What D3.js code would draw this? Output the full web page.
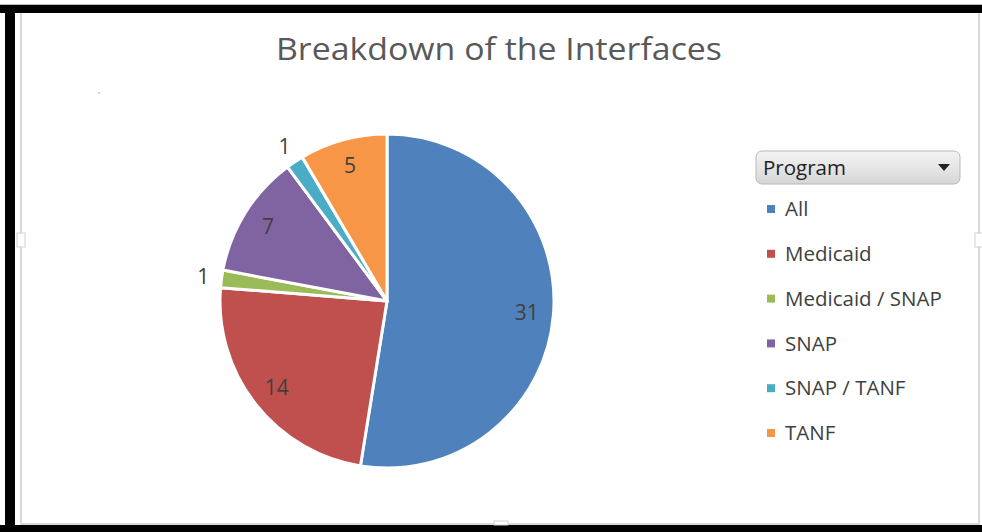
<!DOCTYPE html>
<meta charset="utf-8">
<style>
body { margin: 0; background: #fff; }
text { font-family: "Open Sans", sans-serif; }
</style>
<div id="chart"></div>
<script src="https://d3js.org/d3.v7.min.js"></script>
<script>

// data
var programs = ["All", "Medicaid", "Medicaid / SNAP", "SNAP", "SNAP / TANF", "TANF"];
var counts = [31, 14, 1, 7, 1, 5];
var colors = ["#4F81BD", "#C0504D", "#9BBB59", "#8064A2", "#4BACC6", "#F79646"];
var title = "Breakdown of the Interfaces";
var legendTitle = "Program";

var width = 982, height = 532;

var svg = d3.select("#chart")
  .append("svg")
    .attr("width", width)
    .attr("height", height);

// frame: thick black border top/left/bottom, thin gray chart-area outline
svg.append("rect").attr("x", 0).attr("y", 0).attr("width", width).attr("height", height).attr("fill", "#fff");
svg.append("rect").attr("x", 21).attr("y", 12).attr("width", 958).attr("height", 512)
  .attr("fill", "none").attr("stroke", "#d9d9d9").attr("stroke-width", 2);
svg.append("rect").attr("x", 0).attr("y", 5).attr("width", width).attr("height", 8).attr("fill", "#000");
svg.append("rect").attr("x", 5).attr("y", 5).attr("width", 10).attr("height", height - 5).attr("fill", "#000");
svg.append("rect").attr("x", 0).attr("y", 525).attr("width", width).attr("height", 7).attr("fill", "#000");
svg.append("line").attr("x1", 0).attr("x2", width).attr("y1", 4.5).attr("y2", 4.5).attr("stroke", "#bbb");

// resize handles on the chart area
[[21, 240], [979, 240]].forEach(function(p) {
  svg.append("rect").attr("x", p[0] - 4).attr("y", p[1] - 7).attr("width", 8).attr("height", 14)
    .attr("fill", "#fff").attr("stroke", "#d0d0d0");
});
svg.append("rect").attr("x", 494).attr("y", 521).attr("width", 14).attr("height", 4)
  .attr("fill", "#fff").attr("stroke", "#d0d0d0");
svg.append("circle").attr("cx", 99).attr("cy", 93).attr("r", 0.8).attr("fill", "#999");

// title
svg.append("text")
  .attr("x", 499)
  .attr("y", 60)
  .attr("text-anchor", "middle")
  .attr("textLength", 446)
  .attr("lengthAdjust", "spacingAndGlyphs")
  .style("font-size", "31px")
  .style("fill", "#595959")
  .text(title);

// pie
var cx = 387, cy = 301, r = 167;
var total = d3.sum(counts);
var data = programs.map(function(p, i) { return {name: p, value: counts[i], color: colors[i]}; });

var pie = d3.pie().value(function(d) { return d.value; }).sort(null);
var arc = d3.arc().innerRadius(0).outerRadius(r);
var inLabel = d3.arc().innerRadius(r * 0.84).outerRadius(r * 0.84);
var outLabel = d3.arc().innerRadius(r * 1.11).outerRadius(r * 1.11);

var g = svg.append("g").attr("transform", "translate(" + cx + "," + cy + ")");

g.selectAll("path")
  .data(pie(data))
  .enter()
  .append("path")
    .attr("d", arc)
    .attr("fill", function(d) { return d.data.color; })
    .attr("stroke", "#fff")
    .attr("stroke-width", 3)
    .attr("stroke-linejoin", "round");

g.selectAll(".lbl")
  .data(pie(data))
  .enter()
  .append("text")
    .attr("class", "lbl")
    .attr("transform", function(d) {
      var small = d.data.value / total < 0.03;
      return "translate(" + (small ? outLabel : inLabel).centroid(d) + ")";
    })
    .attr("text-anchor", "middle")
    .attr("dy", "0.36em")
    .style("font-size", "21px")
    .style("fill", "#404040")
    .text(function(d) { return d.data.value; });

// legend header (pivot field button)
var defs = svg.append("defs");
var grad = defs.append("linearGradient").attr("id", "btn").attr("x1", 0).attr("y1", 0).attr("x2", 0).attr("y2", 1);
grad.append("stop").attr("offset", "0%").attr("stop-color", "#f4f4f4");
grad.append("stop").attr("offset", "100%").attr("stop-color", "#d6d6d6");

svg.append("rect")
  .attr("x", 756).attr("y", 151).attr("width", 204).attr("height", 33)
  .attr("rx", 6)
  .attr("fill", "url(#btn)")
  .attr("stroke", "#b8b8b8");
svg.append("text")
  .attr("x", 763).attr("y", 175)
  .style("font-size", "20.5px")
  .style("fill", "#1f1f1f")
  .text(legendTitle);
svg.append("path")
  .attr("d", "M938,164 L950,164 L944,171 Z")
  .attr("fill", "#222");

// legend items
var ly = d3.scalePoint().domain(programs).range([209, 433]);

var items = svg.append("g").selectAll("g")
  .data(data)
  .enter()
  .append("g")
    .attr("transform", function(d) { return "translate(767," + ly(d.name) + ")"; });

items.append("rect")
  .attr("x", 0).attr("y", -4)
  .attr("width", 8).attr("height", 8)
  .attr("fill", function(d) { return d.color; });

items.append("text")
  .attr("x", 18)
  .attr("dy", "0.35em")
  .style("font-size", "20.5px")
  .style("fill", "#404040")
  .text(function(d) { return d.name; });

</script>
